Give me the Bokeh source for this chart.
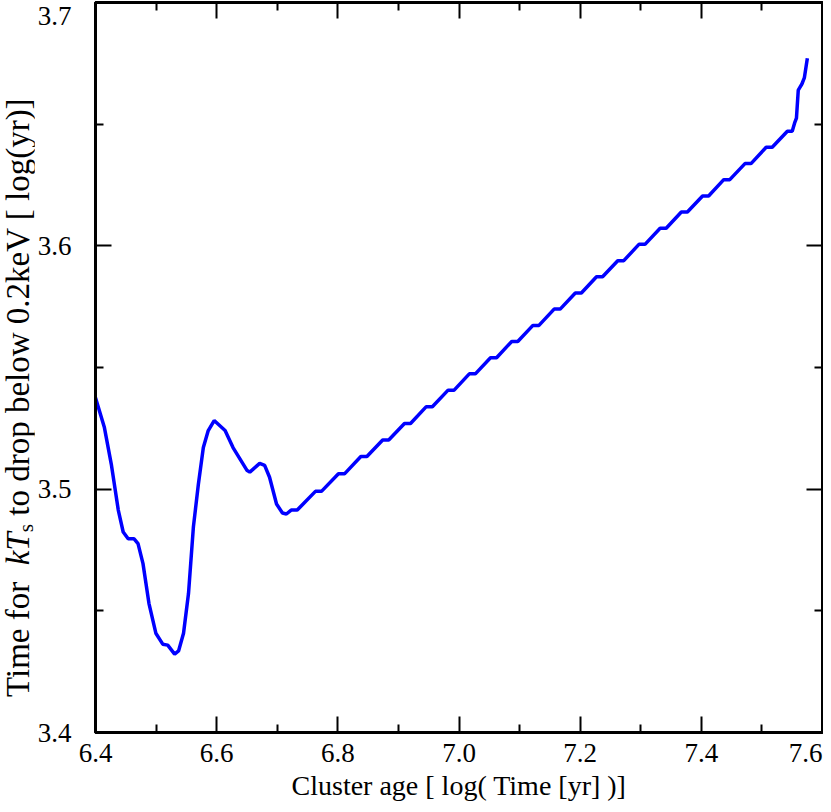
from bokeh.plotting import figure
from bokeh.models import FixedTicker, LinearAxis, Range1d, PrintfTickFormatter, Div
from bokeh.layouts import row
from bokeh.embed import file_html
from bokeh.resources import INLINE

# Cluster age [log(yr)]
age = [6.400, 6.4147, 6.4261, 6.4376, 6.4457, 6.4539, 6.4637, 6.4702, 6.4784, 6.4882,
       6.4996, 6.511, 6.5192, 6.5306, 6.5371, 6.5453, 6.5535, 6.5616, 6.5698, 6.578,
       6.5861, 6.5959, 6.6139, 6.627, 6.6498, 6.6547, 6.671, 6.6792, 6.6873, 6.6988,
       6.7086, 6.7151, 6.723, 6.733,
       6.763, 6.773, 6.801, 6.811, 6.838, 6.848, 6.874, 6.884, 6.910, 6.920,
       6.946, 6.956, 6.982, 6.992, 7.017, 7.027, 7.052, 7.062, 7.087, 7.097,
       7.122, 7.132, 7.157, 7.167, 7.192, 7.202, 7.227, 7.237, 7.262, 7.272,
       7.297, 7.307, 7.332, 7.342, 7.367, 7.377, 7.402, 7.412, 7.437, 7.447,
       7.472, 7.482, 7.507, 7.517, 7.542, 7.550,
       7.554, 7.557, 7.560, 7.566, 7.570, 7.575]
# Time for kT_s to drop below 0.2 keV [log(yr)]
t_drop = [3.5376, 3.5253, 3.5102, 3.4914, 3.4824, 3.4796, 3.4796, 3.4776, 3.4694, 3.4531,
          3.4408, 3.4363, 3.4359, 3.4322, 3.4335, 3.4408, 3.4571, 3.4845, 3.5020, 3.5171,
          3.5241, 3.5282, 3.5241, 3.5171, 3.5078, 3.5070, 3.5106, 3.5098, 3.5049, 3.4939,
          3.4902, 3.4898, 3.4914, 3.4914,
          3.4991, 3.4991, 3.5063, 3.5063, 3.5134, 3.5134, 3.5202, 3.5202, 3.5270, 3.5270,
          3.5339, 3.5339, 3.5407, 3.5407, 3.5474, 3.5474, 3.5540, 3.5540, 3.5607, 3.5607,
          3.5673, 3.5673, 3.5740, 3.5740, 3.5806, 3.5806, 3.5873, 3.5873, 3.5939, 3.5939,
          3.6006, 3.6006, 3.6072, 3.6072, 3.6139, 3.6139, 3.6205, 3.6205, 3.6272, 3.6272,
          3.6338, 3.6338, 3.6405, 3.6405, 3.6471, 3.6471,
          3.6505, 3.6525, 3.6640, 3.6665, 3.6690, 3.6771]

x_major = [6.4, 6.6, 6.8, 7.0, 7.2, 7.4, 7.6]
x_minor = [6.5, 6.7, 6.9, 7.1, 7.3, 7.5]
y_major = [3.4, 3.5, 3.6, 3.7]
y_minor = [3.45, 3.55, 3.65]
x_labels = ["6.4", "6.6", "6.8", "7.0", "7.2", "7.4", "7.6"]
y_labels = ["3.4", "3.5", "3.6", "3.7"]

FONT = "Liberation Serif"
TICK_FS = "27px"
W_DIV = 34
H = 804

p = figure(width=823 - W_DIV, height=H, output_backend="svg", toolbar_location=None,
           x_range=Range1d(x_major[0], x_major[-1]), y_range=Range1d(y_major[0], y_major[-1]),
           min_border_left=94 - W_DIV, min_border_right=1, min_border_top=2,
           min_border_bottom=72, margin=0,
           background_fill_color="white", border_fill_color="white")
p.grid.visible = False
p.outline_line_color = "black"
p.outline_line_width = 3

p.line(age, t_drop, line_color="#0000ff", line_width=3.5)

xt = FixedTicker(ticks=x_major, minor_ticks=x_minor)
yt = FixedTicker(ticks=y_major, minor_ticks=y_minor)

# tick-only axes on all four sides (ticks point inward)
tick_axes = [p.below[0], p.left[0]]
ax_top, ax_right = LinearAxis(), LinearAxis()
p.add_layout(ax_top, "above")
p.add_layout(ax_right, "right")
tick_axes += [ax_top, ax_right]
for ax in tick_axes:
    ax.ticker = yt if ax in (p.left[0], ax_right) else xt
    ax.axis_line_width = 3
    ax.axis_line_color = "black"
    ax.major_tick_line_width = 2
    ax.minor_tick_line_width = 2
    ax.major_tick_in = 16
    ax.major_tick_out = 0
    ax.minor_tick_in = 8
    ax.minor_tick_out = 0
    ax.major_label_text_color = None
    ax.major_label_text_alpha = 0
    ax.major_label_text_font_size = "0px"
    ax.major_label_standoff = 0

# label-only axes; the edge labels (7.6, 3.7) are nudged inside the plot area
x_lab_pos = x_major[:-1] + [7.572]
y_lab_pos = y_major[:-1] + [3.6945]
xl = LinearAxis(ticker=FixedTicker(ticks=x_lab_pos, minor_ticks=[]),
                major_label_overrides={v: s for v, s in zip(x_lab_pos, x_labels)})
yl = LinearAxis(ticker=FixedTicker(ticks=y_lab_pos, minor_ticks=[]),
                major_label_overrides={v: s for v, s in zip(y_lab_pos, y_labels)})
p.add_layout(xl, "below")
p.add_layout(yl, "left")
for ax in (xl, yl):
    ax.axis_line_color = None
    ax.major_tick_line_color = None
    ax.minor_tick_line_color = None
    ax.major_tick_in = 0
    ax.major_tick_out = 0
    ax.minor_tick_in = 0
    ax.minor_tick_out = 0
    ax.major_label_text_font = FONT
    ax.major_label_text_font_size = TICK_FS
    ax.major_label_text_color = "black"
    ax.formatter = PrintfTickFormatter(format="%.1f")
xl.major_label_standoff = 11
yl.major_label_standoff = 24

xl.axis_label = "Cluster age [ log( Time [yr] )]"
xl.axis_label_text_font = FONT
xl.axis_label_text_font_size = "28px"
xl.axis_label_text_font_style = "normal"
xl.axis_label_text_color = "black"
xl.axis_label_standoff = 5

ytitle = Div(
    text="Time for&nbsp; <i>kT</i><sub style='font-size:0.65em'>s</sub> to drop below 0.2keV [ log(yr)]",
    width=W_DIV, height=H, margin=0,
    styles={
        "writing-mode": "vertical-rl",
        "transform": "rotate(180deg)",
        "text-align": "center",
        "font-family": "'Liberation Serif', serif",
        "font-size": "33px",
        "line-height": "1.0",
        "color": "black",
        "white-space": "nowrap",
        "padding-top": "8px",
        "padding-right": "2px",
        "box-sizing": "border-box",
    },
)

layout = row(ytitle, p, spacing=0)
open("out.html", "w").write(file_html(layout, INLINE))
